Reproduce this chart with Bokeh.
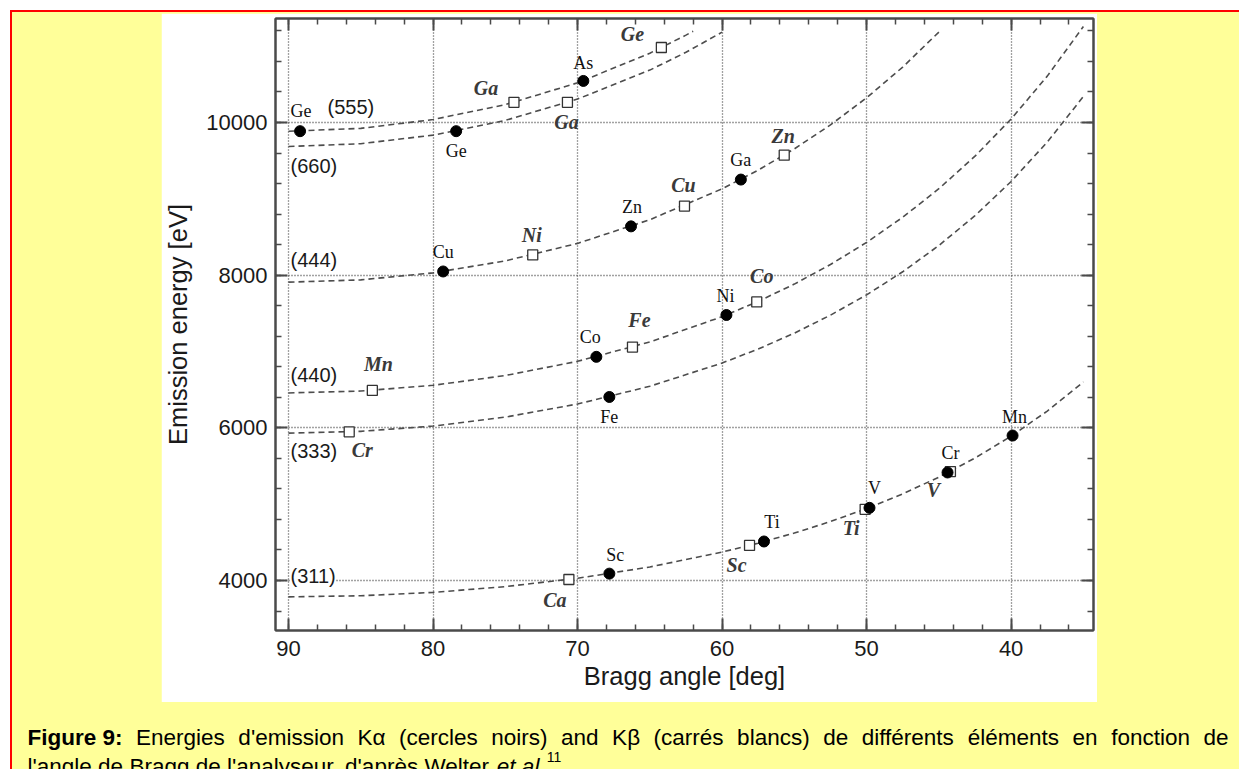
from bokeh.plotting import figure
from bokeh.models import Range1d, Label, LinearAxis, SingleIntervalTicker, ColumnDataSource
from bokeh.layouts import column
from bokeh.core.properties import value
from bokeh.embed import file_html
from bokeh.resources import INLINE

# ---------------- data ----------------
ka_element = ["Ge", "Ge", "As", "Cu", "Zn", "Ga", "Co", "Ni", "Fe", "Sc", "Ti", "V", "Cr", "Mn"]
ka_angle = [89.2, 78.4, 69.6, 79.3, 66.3, 58.7, 68.7, 59.7, 67.8, 67.8, 57.1, 49.8, 44.4, 39.9]
ka_energy = [9886, 9886, 10544, 8048, 8639, 9252, 6930, 7478, 6404, 4090, 4511, 4952, 5415, 5899]

kb_element = ["Ge", "Ga", "Ga", "Ni", "Cu", "Zn", "Mn", "Fe", "Co", "Cr", "Ca", "Sc", "Ti", "V"]
kb_angle = [64.2, 74.4, 70.7, 73.1, 62.6, 55.7, 84.2, 66.2, 57.6, 85.8, 70.6, 58.1, 50.1, 44.2]
kb_energy = [10982, 10264, 10264, 8265, 8905, 9572, 6490, 7058, 7649, 5947, 4013, 4460, 4932, 5427]

reflection_names = ["(555)", "(660)", "(444)", "(440)", "(333)", "(311)"]

si555_angle = [90, 85, 80, 75, 70, 65, 62.5, 62]
si555_energy = [9885, 9923, 10038, 10234, 10519, 10907, 11144, 11195]
si660_angle = [90, 85, 80, 75, 70, 65, 62.5, 60]
si660_energy = [9685, 9722, 9834, 10027, 10307, 10686, 10919, 11183]
si444_angle = [90, 85, 80, 75, 70, 65, 60, 57.5, 55, 52.5, 50, 47.5, 45]
si444_energy = [7908, 7938, 8030, 8187, 8416, 8726, 9131, 9376, 9654, 9968, 10323, 10726, 11184]
si440_angle = [90, 85, 80, 75, 70, 65, 60, 57.5, 55, 52.5, 50, 47.5, 45, 42.5, 40, 37.5, 35]
si440_energy = [6457, 6482, 6557, 6685, 6871, 7125, 7456, 7656, 7883, 8139, 8429, 8758, 9132, 9558, 10045, 10607, 11257]
si333_angle = [90, 85, 80, 75, 70, 65, 60, 57.5, 55, 52.5, 50, 47.5, 45, 42.5, 40, 37.5, 35]
si333_energy = [5931, 5954, 6023, 6140, 6312, 6544, 6849, 7032, 7240, 7476, 7742, 8044, 8388, 8779, 9227, 9743, 10340]
si311_angle = [90, 85, 80, 75, 70, 65, 60, 57.5, 55, 52.5, 50, 47.5, 45, 42.5, 40, 37.5, 35]
si311_energy = [3786, 3800, 3844, 3920, 4029, 4177, 4372, 4489, 4622, 4772, 4942, 5135, 5354, 5604, 5890, 6219, 6601]

caption_head = "Figure 9:"
caption_line1 = ["Energies", "d'emission", "Kα", "(cercles", "noirs)", "and", "Kβ", "(carrés", "blancs)",
                 "de", "différents", "éléments", "en", "fonction", "de"]
caption_line2 = "l'angle de Bragg de l'analyseur, d'après Welter "
caption_italic = "et al."
caption_ref = "11"

# ---------------- label placement (screen-pixel offsets, style only) ----------------
ka_dx = [1, 0, 0, 0, 1, 0, -6, -1, 0, 6, 8, 5, 3, 2]
ka_dy = [-20, 20, -18, -19, -19, -20, -20, -19, 20, -19, -19, -20, -19, -19]
kb_dx = [-29, -28, -1, -1, -1, -1, 6, 7, 5, 13, -14, -13, -14, -17]
kb_dy = [-14, -14, 20, -20, -21, -19, -26, -27, -26, 18, 20, 20, 19, 18]
refl_dx = [39, 2, 2, 2, 2, 2]
refl_dy = [-24, 19, -22, -18, 18, -21]

curves = [(si555_angle, si555_energy), (si660_angle, si660_energy), (si444_angle, si444_energy),
          (si440_angle, si440_energy), (si333_angle, si333_energy), (si311_angle, si311_energy)]

AX = "#4a4a4a"
SANS = "Liberation Sans"
SERIF = "Liberation Serif"
YELLOW = "#FFFF99"

# ---------------- chart (white panel at x=161..1097, y=13..702) ----------------
p = figure(width=936, height=689, x_range=Range1d(90.9, 34.3), y_range=Range1d(3345, 11362),
           output_backend="svg", toolbar_location=None,
           x_axis_label="Bragg angle [deg]", y_axis_label="Emission energy [eV]",
           min_border_left=112, min_border_right=4, min_border_top=5, min_border_bottom=72,
           margin=(1, 0, 0, 149))
p.border_fill_color = "white"
p.background_fill_color = "white"
p.outline_line_color = AX
p.outline_line_width = 2

xt = SingleIntervalTicker(interval=10, num_minor_ticks=5)
yt = SingleIntervalTicker(interval=2000, num_minor_ticks=5)


def style_axis(ax, ticker, labels):
    ax.ticker = ticker
    ax.axis_line_color = AX
    ax.axis_line_width = 2
    ax.major_tick_line_color = AX
    ax.major_tick_line_width = 2
    ax.major_tick_in = 12
    ax.major_tick_out = 0
    ax.minor_tick_line_color = AX
    ax.minor_tick_line_width = 1.5
    ax.minor_tick_in = 6
    ax.minor_tick_out = 0
    if labels:
        ax.major_label_text_font = SANS
        ax.major_label_text_font_size = "22px"
        ax.major_label_text_color = "#1a1a1a"
        ax.axis_label_text_font = SANS
        ax.axis_label_text_font_size = "25.5px"
        ax.axis_label_text_font_style = "normal"
        ax.axis_label_text_color = "#1a1a1a"
    else:
        ax.major_label_text_font_size = "1px"
        ax.major_label_text_alpha = 0
        ax.major_label_standoff = 0


bottom = p.below[0]
left = p.left[0]
style_axis(bottom, xt, True)
style_axis(left, yt, True)
bottom.major_label_standoff = 10
bottom.axis_label_standoff = 3
left.major_label_standoff = 8
left.axis_label_standoff = 11

top = LinearAxis()
style_axis(top, xt, False)
p.add_layout(top, "above")
right = LinearAxis()
style_axis(right, yt, False)
p.add_layout(right, "right")

for g, t in ((p.xgrid[0], xt), (p.ygrid[0], yt)):
    g.ticker = t
    g.grid_line_color = "#444444"
    g.grid_line_width = 1.3
    g.grid_line_dash = "1 2"

# dashed Bragg curves
for ang, en in curves:
    p.line(ang, en, line_color="#4d4d4d", line_width=1.6, line_dash="6 4")

# K-beta (open squares) then K-alpha (filled circles)
p.scatter(kb_angle, kb_energy, marker="square", size=10, fill_color="white", line_color="#333333", line_width=1.3)
p.scatter(ka_angle, ka_energy, marker="circle", size=11, fill_color="black", line_color="black")

ka_src = ColumnDataSource(dict(x=ka_angle, y=ka_energy, t=ka_element, dx=ka_dx, dy=ka_dy))
p.text(x="x", y="y", text="t", x_offset="dx", y_offset="dy", source=ka_src,
       text_font=value(SERIF), text_font_size="18px", text_color="#111111",
       text_align="center", text_baseline="middle")

kb_src = ColumnDataSource(dict(x=kb_angle, y=kb_energy, t=kb_element, dx=kb_dx, dy=kb_dy))
p.text(x="x", y="y", text="t", x_offset="dx", y_offset="dy", source=kb_src,
       text_font=value(SERIF), text_font_size="20px", text_font_style="bold italic", text_color="#3a3a3a",
       text_align="center", text_baseline="middle")

for name, (ang, en), dx, dy in zip(reflection_names, curves, refl_dx, refl_dy):
    p.add_layout(Label(x=ang[0], y=en[0], x_offset=dx, y_offset=-dy, text=name,
                       text_font=SANS, text_font_size="20px", text_color="#1a1a1a",
                       text_align="left", text_baseline="middle",
                       background_fill_color="white", background_fill_alpha=1))

# ---------------- caption strip (page pixels x=12..1239, y=702..769) ----------------
cap = figure(width=1227, height=67, x_range=Range1d(12, 1239), y_range=Range1d(769, 702),
             output_backend="svg", toolbar_location=None, x_axis_location=None, y_axis_location=None,
             min_border=0, margin=(0, 0, 0, 0))
cap.grid.visible = False
cap.outline_line_color = None
cap.background_fill_color = YELLOW
cap.border_fill_color = YELLOW

# keep each figure's frame independent (no cross-figure frame alignment)
for f in (p, cap):
    try:
        f.frame_align = False
    except Exception:
        pass

W_REG = {' ': 278, "'": 191, '(': 333, ')': 333, ',': 278, '.': 278, ':': 278, '1': 556, '9': 556,
         'a': 556, 'b': 556, 'c': 500, 'd': 556, 'e': 556, 'f': 278, 'g': 556, 'h': 556, 'i': 222,
         'l': 222, 'm': 833, 'n': 556, 'o': 556, 'p': 556, 'r': 333, 's': 500, 't': 278, 'u': 556,
         'y': 500, 'E': 667, 'K': 667, 'W': 944, 'B': 667, 'F': 611, 'é': 556, 'è': 556,
         'α': 578, 'β': 575}
W_BOLD = {'F': 611, 'i': 278, 'g': 611, 'u': 611, 'r': 389, 'e': 556, ' ': 278, '9': 556, ':': 333}


def tw(s, size, table):
    return sum(table.get(c, 556) for c in s) * size / 1000.0


CAP = 22.5
cap_left, cap_right = 27, 1228
base1, base2 = 737, 766
widths = [tw(caption_head, CAP, W_BOLD)] + [tw(w, CAP, W_REG) for w in caption_line1]
gap = (cap_right - cap_left - sum(widths)) / len(caption_line1)
cap_kw = dict(text_font=SANS, text_font_size=f"{CAP}px", text_color="black",
              text_baseline="alphabetic", text_align="left")
x = cap_left
cap.add_layout(Label(x=x, y=base1, text=caption_head, text_font_style="bold", **cap_kw))
x += widths[0] + gap
for w, wd in zip(caption_line1, widths[1:]):
    cap.add_layout(Label(x=x, y=base1, text=w, **cap_kw))
    x += wd + gap

x = cap_left
cap.add_layout(Label(x=x, y=base2, text=caption_line2, **cap_kw))
x += tw(caption_line2, CAP, W_REG)
cap.add_layout(Label(x=x, y=base2, text=caption_italic, text_font_style="italic", **cap_kw))
x += tw(caption_italic, CAP, W_REG) + 1
sup_kw = dict(cap_kw)
sup_kw["text_font_size"] = "14px"
cap.add_layout(Label(x=x, y=base2 - 10, text=caption_ref, **sup_kw))

root = column(p, cap, spacing=0, margin=(10, 0, 0, 10),
              styles={"background-color": YELLOW, "border-top": "2px solid red",
                      "border-left": "2px solid red"})

open("out.html", "w").write(file_html(root, INLINE))
